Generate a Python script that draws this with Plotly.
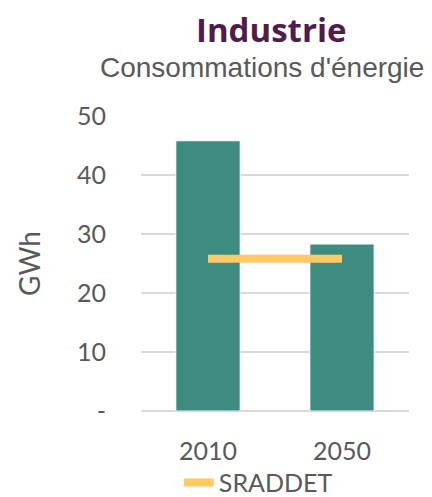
import plotly.graph_objects as go

YEARS = ["2010", "2050"]
CONSO = [45.8, 28.3]
SRADDET = [25.8, 25.8]
Y_TICKS = [0, 10, 20, 30, 40, 50]
Y_TICKTEXT = ["-", "10", "20", "30", "40", "50"]

TEAL = "#3D8C7F"
YELLOW = "#FFC965"
PURPLE = "#4F1C4B"
GREY_TXT = "#595959"
GRID = "#D9D9D9"
FONT = "Lato"

fig = go.Figure()

fig.add_trace(go.Bar(
    x=YEARS, y=CONSO, name="Consommations",
    marker={"color": TEAL, "line": {"color": "white", "width": 1}},
    showlegend=False,
))

# SRADDET target, drawn between the two bar centres
fig.add_trace(go.Scatter(
    x=YEARS, y=SRADDET, name="SRADDET", mode="lines",
    line={"color": YELLOW, "width": 8},
))

# title block (paper coords, plot area is 295 px tall)
fig.add_annotation(
    text="<b>Industrie</b>", xref="paper", yref="paper",
    x=0.485, y=1.292, yanchor="middle", showarrow=False,
    font={"family": "Open Sans", "size": 33, "color": PURPLE},
)
fig.add_annotation(
    text="Consommations d'énergie", xref="paper", yref="paper",
    x=0.451, y=1.165, yanchor="middle", showarrow=False,
    font={"family": "Liberation Sans Narrow, Liberation Sans", "size": 28, "color": GREY_TXT},
)

# page body has an 8px margin, so the figure is 8px smaller than the window
fig.update_layout(
    template="none",
    width=424, height=489,
    margin={"l": 133, "r": 23, "t": 108, "b": 86, "autoexpand": False},
    paper_bgcolor="white", plot_bgcolor="white",
    bargap=0.52,
    font={"family": FONT, "color": GREY_TXT, "size": 25},
    legend={
        "orientation": "h", "xref": "container", "yref": "container",
        "x": 0.403, "y": 0.029, "xanchor": "left", "yanchor": "middle",
        "font": {"size": 25, "color": GREY_TXT},
        "bgcolor": "rgba(0,0,0,0)",
    },
    xaxis={
        "type": "category",
        "showgrid": False, "showline": False, "zeroline": False,
        "automargin": False, "ticks": "",
        "tickfont": {"size": 25, "color": GREY_TXT},
        "ticklabelstandoff": 23,
    },
    yaxis={
        "range": [0, 50], "automargin": False, "ticks": "",
        "tickvals": Y_TICKS, "ticktext": Y_TICKTEXT,
        "showgrid": True, "gridcolor": GRID, "gridwidth": 2,
        "zeroline": True, "zerolinecolor": GRID, "zerolinewidth": 2,
        "tickfont": {"size": 25, "color": GREY_TXT},
        "ticklabelstandoff": 34,
        "title": {"text": "GWh", "font": {"size": 28, "color": GREY_TXT}, "standoff": 28},
    },
)

fig.write_html("out.html")
